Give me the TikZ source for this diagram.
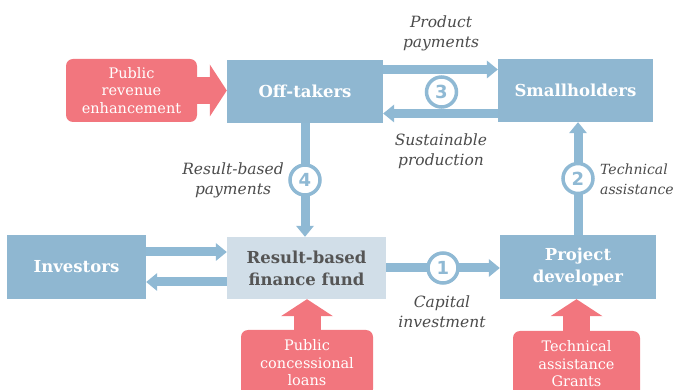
\documentclass[tikz,border=0pt]{standalone}
\usepackage{fontspec}
\setmainfont{DejaVu Serif}
\newfontfamily\numfont{DejaVu Sans}
\usetikzlibrary{arrows.meta}
\definecolor{boxblue}{RGB}{143,183,209}
\definecolor{flowblue}{RGB}{143,185,212}
\definecolor{fundgrey}{RGB}{209,222,232}
\definecolor{pubred}{RGB}{242,118,126}
\definecolor{notegrey}{RGB}{75,75,75}
\definecolor{fundtext}{RGB}{85,85,85}
\begin{document}
\begin{tikzpicture}[x=1pt, y=-1pt,
    box/.style = {fill=boxblue, text=white, font=\fontsize{16.5}{22}\selectfont\bfseries, align=center, minimum height=63pt, inner sep=0pt},
    fund/.style = {box, fill=fundgrey, text=fundtext},
    pub/.style = {fill=pubred, text=white, rounded corners=7pt, font=\fontsize{14.5}{17.5}\selectfont, align=center, inner sep=0pt},
    num/.style = {draw=flowblue, fill=white, circle, line width=3.5pt, minimum size=30pt, inner sep=0pt, text=flowblue, font=\numfont\fontsize{18}{18}\selectfont\bfseries},
    note/.style = {text=notegrey, font=\fontsize{15.5}{20}\selectfont\itshape, align=center},
    flow/.style = {draw=flowblue, line width=9pt, -{Triangle[width=18pt, length=11pt, line width=0pt]}},
    push/.style = {draw=pubred, line width=27pt, -{Triangle[width=52pt, length=17pt, line width=0pt]}}]
    \useasboundingbox (0,0) rectangle (678,390);
    \clip (0,0) rectangle (678,390);

    \node[box, minimum width=156pt] (off) at (305,91.5) {Off-takers};
    \node[box, minimum width=155pt] (small) at (575.5,90.5) {Smallholders};
    \node[box, minimum width=139pt, minimum height=64pt] (inv) at (76.5,267) {Investors};
    \node[fund, minimum width=159pt, minimum height=62pt] (fund) at (306.5,268) {Result-based\\finance fund};
    \node[box, minimum width=156pt, minimum height=64pt] (dev) at (578,267) {Project\\developer};

    \node[pub, minimum width=131pt, minimum height=63pt] (rev) at (131.5,90.5) {Public\\revenue\\enhancement};
    \node[pub, minimum width=132pt, minimum height=66pt] (loan) at (307,363) {Public\\concessional\\loans};
    \node[pub, minimum width=127pt, minimum height=66pt] (grant) at (576.5,364) {Technical\\assistance\\Grants};

    % blue flows
    \draw[flow] ([yshift=22pt]off.east) -- ([yshift=22pt]off.east -| small.west);
    \draw[flow] ([yshift=-22pt]off.east -| small.west) -- ([yshift=-22pt]off.east);
    \node[num] (n3) at (441.5,92) {3};
    \draw[flow] (off.south) -- (off.south |- fund.north) node[num, midway] (n4) {4};
    \draw[flow] (dev.north) -- (dev.north |- small.south) node[num, midway] (n2) {2};
    \draw[flow] (fund.east) -- (fund.east -| dev.west) node[num, midway] (n1) {1};
    \draw[flow] ([yshift=15pt]inv.east) -- ([yshift=15pt]inv.east -| fund.west);
    \draw[flow] ([yshift=-15pt]inv.east -| fund.west) -- ([yshift=-15pt]inv.east);

    % red pushes
    \draw[push] (rev.east) -- (rev.east -| off.west);
    \draw[push] (loan.north) -- (loan.north |- fund.south);
    \draw[push] (grant.north) -- (grant.north |- dev.south);

    % labels
    \node[note] (lprod) at (441,33) {Product\\payments};
    \node[note] (lsust) at (441,151) {Sustainable\\production};
    \node[note] (lres) at (233,180) {Result-based\\payments};
    \node[note, anchor=west, align=left, font=\fontsize{14}{20}\selectfont\itshape, inner sep=0pt] (ltech) at (600,179) {Technical\\assistance};
    \node[note] (lcap) at (442,312) {Capital\\investment};
\end{tikzpicture}
\end{document}
